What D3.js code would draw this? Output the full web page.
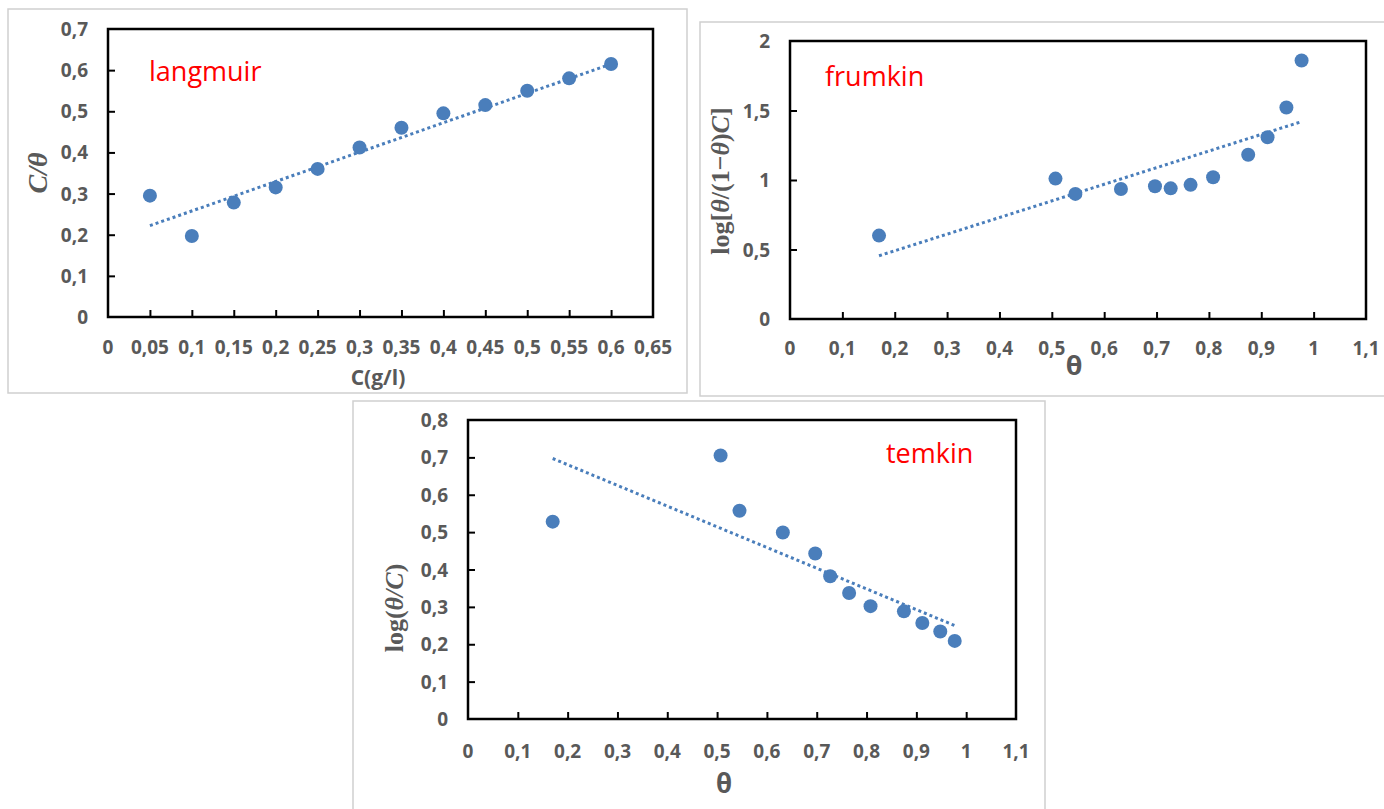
<!DOCTYPE html>
<html lang="en">
<head>
<meta charset="UTF-8">
<title>Isothermes</title>
<script src="https://d3js.org/d3.v7.min.js"></script>
<style>
    body { margin: 0; background: #fff; }
    svg { display: block; }
    .tick-label { font-family: "Open Sans", sans-serif; font-weight: bold; font-size: 19px; fill: #595959; }
    .model-name { font-family: "Open Sans", sans-serif; font-size: 27px; fill: #ff0000; }
    .frame { fill: none; stroke: #cfcfcf; stroke-width: 1.5px; }
    .plot-box { fill: none; stroke: #000; stroke-width: 2.5px; }
    .trend { fill: none; stroke: #4a7ebb; stroke-width: 3px; stroke-dasharray: 3 3; }
    .dot { fill: #4a7ebb; }
</style>
</head>
<body>
<script>
// langmuir : C/theta against C
const langC = [0.05, 0.1, 0.15, 0.2, 0.25, 0.3, 0.35, 0.4, 0.45, 0.5, 0.55, 0.6];
const langCTheta = [0.295, 0.197, 0.278, 0.315, 0.36, 0.412, 0.46, 0.495, 0.515, 0.55, 0.58, 0.615];
const langTrendX = [0.05, 0.6];
const langTrendY = [0.222, 0.615];
const langXTicks = [0, 0.05, 0.1, 0.15, 0.2, 0.25, 0.3, 0.35, 0.4, 0.45, 0.5, 0.55, 0.6, 0.65];
const langYTicks = [0, 0.1, 0.2, 0.3, 0.4, 0.5, 0.6, 0.7];

// theta shared by frumkin and temkin
const theta = [0.17, 0.507, 0.545, 0.632, 0.697, 0.727, 0.765, 0.808, 0.875, 0.912, 0.948, 0.977];

// frumkin : log[theta/(1-theta)C]
const frumY = [0.6, 1.01, 0.9, 0.935, 0.955, 0.94, 0.965, 1.02, 1.182, 1.308, 1.522, 1.86];
const frumTrendX = [0.17, 0.977];
const frumTrendY = [0.455, 1.42];
const frumXTicks = [0, 0.1, 0.2, 0.3, 0.4, 0.5, 0.6, 0.7, 0.8, 0.9, 1, 1.1];
const frumYTicks = [0, 0.5, 1, 1.5, 2];

// temkin : log(theta/C)
const temY = [0.528, 0.705, 0.557, 0.499, 0.443, 0.382, 0.337, 0.302, 0.288, 0.257, 0.234, 0.209];
const temTrendX = [0.17, 0.977];
const temTrendY = [0.697, 0.25];
const temXTicks = [0, 0.1, 0.2, 0.3, 0.4, 0.5, 0.6, 0.7, 0.8, 0.9, 1, 1.1];
const temYTicks = [0, 0.1, 0.2, 0.3, 0.4, 0.5, 0.6, 0.7, 0.8];

const width = 1384, height = 809;
const svg = d3.select("body").append("svg")
    .attr("width", width)
    .attr("height", height);

const fmt = d => String(+d.toFixed(2)).replace(".", ",");

function drawPanel(p) {
    const g = svg.append("g");
    // outer grey frame
    g.append("rect").attr("class", "frame")
        .attr("x", p.frame[0]).attr("y", p.frame[1])
        .attr("width", p.frame[2]).attr("height", p.frame[3]);

    const x = d3.scaleLinear().domain([0, d3.max(p.xTicks)]).range([p.box[0], p.box[1]]);
    const y = d3.scaleLinear().domain([0, d3.max(p.yTicks)]).range([p.box[3], p.box[2]]);

    // inward tick marks
    g.append("g")
        .attr("transform", `translate(0,${p.box[3]})`)
        .call(d3.axisTop(x).tickValues(p.xTicks.slice(1, -1)).tickSize(7).tickFormat(""))
        .call(a => a.select(".domain").remove())
        .selectAll("line").attr("stroke", "#000").attr("stroke-width", 2);
    g.append("g")
        .attr("transform", `translate(${p.box[0]},0)`)
        .call(d3.axisRight(y).tickValues(p.yTicks.slice(1, -1)).tickSize(7).tickFormat(""))
        .call(a => a.select(".domain").remove())
        .selectAll("line").attr("stroke", "#000").attr("stroke-width", 2);

    // tick labels
    g.selectAll(".xl").data(p.xTicks).enter().append("text")
        .attr("class", "tick-label")
        .attr("x", d => x(d)).attr("y", p.box[3] + p.xLabelOff)
        .attr("text-anchor", "middle").attr("dominant-baseline", "central")
        .text(fmt);
    g.selectAll(".yl").data(p.yTicks).enter().append("text")
        .attr("class", "tick-label")
        .attr("x", p.box[0] - 20).attr("y", d => y(d))
        .attr("text-anchor", "end").attr("dominant-baseline", "central")
        .text(fmt);

    // plot box
    g.append("rect").attr("class", "plot-box")
        .attr("x", p.box[0]).attr("y", p.box[2])
        .attr("width", p.box[1] - p.box[0]).attr("height", p.box[3] - p.box[2]);

    // trend line
    const line = d3.line().x(d => x(d[0])).y(d => y(d[1]));
    g.append("path").attr("class", "trend")
        .attr("d", line(d3.zip(p.trendX, p.trendY)));

    // markers
    g.selectAll(".dot").data(d3.zip(p.xs, p.ys)).enter().append("circle")
        .attr("class", "dot")
        .attr("cx", d => x(d[0])).attr("cy", d => y(d[1])).attr("r", 7);

    // model name
    g.append("text").attr("class", "model-name")
        .attr("x", p.name[1]).attr("y", p.name[2])
        .attr("dominant-baseline", "central")
        .text(p.name[0]);

    return g;
}

// langmuir
const g1 = drawPanel({
    frame: [8, 9, 679, 384], box: [108, 653, 29, 317], xLabelOff: 30,
    xTicks: langXTicks, yTicks: langYTicks, xs: langC, ys: langCTheta,
    trendX: langTrendX, trendY: langTrendY, name: ["langmuir", 149, 70]
});
g1.append("text")
    .attr("transform", "translate(37,173) rotate(-90)")
    .attr("text-anchor", "middle").attr("dominant-baseline", "central")
    .style("font-family", "'Liberation Serif', serif").style("font-style", "italic")
    .style("font-weight", "bold").style("font-size", "28px").style("fill", "#595959")
    .text("C/θ");
g1.append("text")
    .attr("x", 378).attr("y", 377)
    .attr("text-anchor", "middle").attr("dominant-baseline", "central")
    .style("font-family", "'Open Sans', sans-serif").style("font-weight", "bold")
    .style("font-size", "21px").style("fill", "#595959")
    .text("C(g/l)");

// frumkin
const g2 = drawPanel({
    frame: [700, 22, 700, 374], box: [790, 1366, 41, 319], xLabelOff: 29,
    xTicks: frumXTicks, yTicks: frumYTicks, xs: theta, ys: frumY,
    trendX: frumTrendX, trendY: frumTrendY, name: ["frumkin", 825, 75]
});
const t2 = g2.append("text")
    .attr("transform", "translate(720,181) rotate(-90)")
    .attr("text-anchor", "middle").attr("dominant-baseline", "central")
    .style("font-family", "'Liberation Serif', serif").style("font-weight", "bold")
    .style("font-size", "26px").style("fill", "#595959");
t2.append("tspan").text("log[");
t2.append("tspan").style("font-style", "italic").text("θ");
t2.append("tspan").text("/(1−");
t2.append("tspan").style("font-style", "italic").text("θ");
t2.append("tspan").text(")");
t2.append("tspan").style("font-style", "italic").text("C");
t2.append("tspan").text("]");
g2.append("text")
    .attr("x", 1074).attr("y", 364)
    .attr("text-anchor", "middle").attr("dominant-baseline", "central")
    .style("font-family", "'Open Sans', sans-serif").style("font-weight", "bold")
    .style("font-size", "27px").style("fill", "#595959")
    .text("θ");

// temkin
const g3 = drawPanel({
    frame: [353, 401, 692, 420], box: [468, 1016, 420, 719], xLabelOff: 32,
    xTicks: temXTicks, yTicks: temYTicks, xs: theta, ys: temY,
    trendX: temTrendX, trendY: temTrendY, name: ["temkin", 886, 452]
});
const t3 = g3.append("text")
    .attr("transform", "translate(394,608) rotate(-90)")
    .attr("text-anchor", "middle").attr("dominant-baseline", "central")
    .style("font-family", "'Liberation Serif', serif").style("font-weight", "bold")
    .style("font-size", "26px").style("fill", "#595959");
t3.append("tspan").text("log(");
t3.append("tspan").style("font-style", "italic").text("θ/C");
t3.append("tspan").text(")");
g3.append("text")
    .attr("x", 724).attr("y", 783)
    .attr("text-anchor", "middle").attr("dominant-baseline", "central")
    .style("font-family", "'Open Sans', sans-serif").style("font-weight", "bold")
    .style("font-size", "26px").style("fill", "#595959")
    .text("θ");
</script>
</body>
</html>
